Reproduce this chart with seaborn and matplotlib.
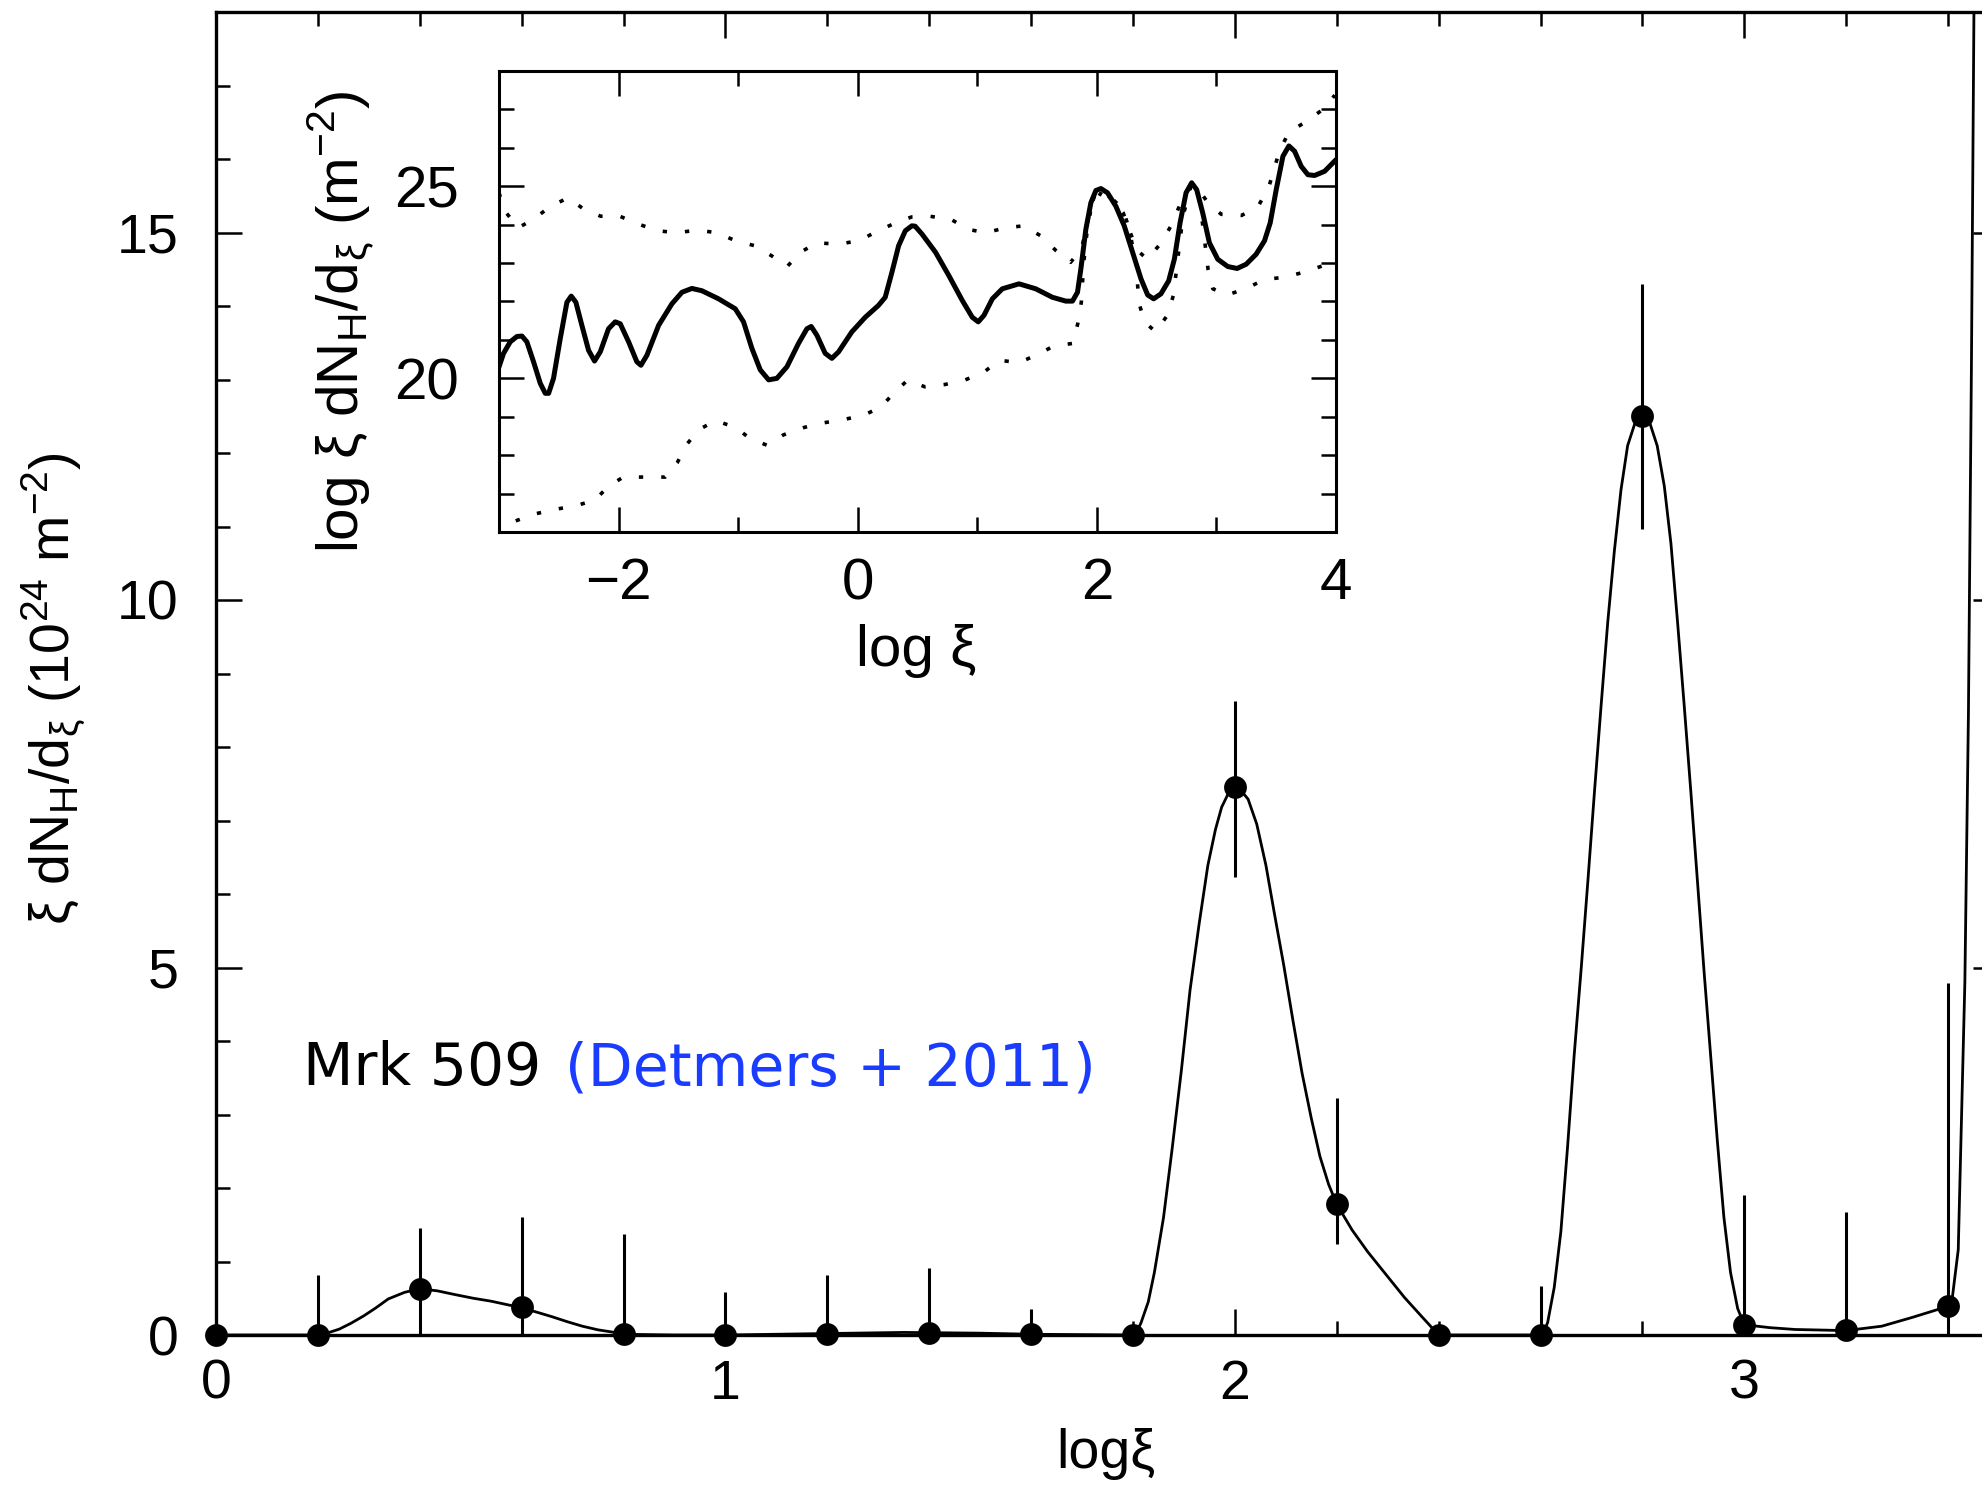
import matplotlib
matplotlib.use("Agg")
import matplotlib.pyplot as plt
import seaborn as sns
import numpy as np
import pandas as pd
from matplotlib.ticker import MultipleLocator

# ---------------- main panel data ----------------
pts_x = [0.0, 0.2, 0.4, 0.6, 0.8, 1.0, 1.2, 1.4, 1.6, 1.8, 2.0, 2.2, 2.4, 2.6, 2.8, 3.0, 3.2, 3.4]
pts_y = [0.0, 0.0, 0.63, 0.38, 0.01, 0.0, 0.02, 0.03, 0.01, 0.0, 7.45, 1.78, 0.0, 0.0, 12.5, 0.14, 0.07, 0.39]
err_hi = [0.0, 0.82, 0.83, 1.23, 1.36, 0.58, 0.79, 0.88, 0.35, 0.0, 1.17, 1.45, 0.0, 0.67, 1.80, 1.77, 1.61, 4.40]
err_lo = [0.0, 0.82, 0.83, 1.23, 1.36, 0.58, 0.79, 0.88, 0.35, 0.0, 1.22, 0.54, 0.0, 0.67, 1.53, 1.77, 1.61, 4.40]

curve_x = [0.0, 0.2, 0.22, 0.242, 0.265, 0.29, 0.314, 0.338, 0.37, 0.4, 0.435, 0.469, 0.505, 0.54,
           0.6, 0.63, 0.659, 0.69, 0.719, 0.75, 0.778, 0.8, 0.9, 1.0,
           1.2, 1.35, 1.5, 1.6, 1.8, 1.808, 1.816, 1.83, 1.842, 1.86, 1.877, 1.895, 1.912, 1.93,
           1.947, 1.962, 1.974, 1.988, 2.0, 2.013, 2.026, 2.043, 2.061, 2.078, 2.096, 2.114, 2.132,
           2.15, 2.167, 2.184, 2.2, 2.23, 2.261, 2.297, 2.333, 2.367, 2.4,
           2.6, 2.607, 2.614, 2.627, 2.64, 2.653, 2.666, 2.68, 2.693, 2.706, 2.719, 2.732, 2.745,
           2.758, 2.771, 2.786, 2.8, 2.814, 2.829, 2.843, 2.856, 2.869, 2.882, 2.895, 2.908, 2.921,
           2.934, 2.947, 2.96, 2.973, 2.987, 3.0, 3.05, 3.1, 3.2, 3.27, 3.33,
           3.4, 3.407, 3.42, 3.433, 3.44, 3.446, 3.451, 3.46]
curve_y = [0.0, 0.0, 0.03, 0.08, 0.16, 0.26, 0.37, 0.49, 0.58, 0.63, 0.6, 0.55, 0.5, 0.46,
           0.37, 0.31, 0.25, 0.18, 0.12, 0.07, 0.04, 0.01, 0.0, 0.0,
           0.02, 0.035, 0.025, 0.01, 0.0, 0.05, 0.17, 0.45, 0.85, 1.6, 2.54, 3.6, 4.69, 5.6,
           6.39, 6.88, 7.18, 7.38, 7.44, 7.40, 7.29, 6.95, 6.39, 5.72, 5.03, 4.28, 3.56,
           2.95, 2.43, 2.05, 1.78, 1.43, 1.13, 0.82, 0.51, 0.25, 0.0,
           0.0, 0.05, 0.17, 0.65, 1.41, 2.55, 3.80, 5.0, 6.18, 7.4, 8.57, 9.7, 10.67,
           11.5, 12.10, 12.42, 12.51, 12.42, 12.10, 11.55, 10.77, 9.7, 8.57, 7.4, 6.18, 4.95,
           3.80, 2.65, 1.60, 0.85, 0.36, 0.14, 0.10, 0.075, 0.06, 0.12, 0.24,
           0.39, 0.43, 1.16, 4.8, 8.46, 13.3, 18.2, 25.0]

# ---------------- inset data ----------------
ins_x = [-3.004, -2.962, -2.906, -2.85, -2.808, -2.767, -2.711, -2.655, -2.613, -2.585, -2.544,
         -2.488, -2.432, -2.396, -2.357, -2.307, -2.251, -2.201, -2.153, -2.084, -2.028, -1.986,
         -1.916, -1.847, -1.813, -1.763, -1.665, -1.554, -1.47, -1.387, -1.303, -1.164, -1.024,
         -0.955, -0.885, -0.815, -0.745, -0.676, -0.592, -0.495, -0.425, -0.389, -0.341, -0.272,
         -0.216, -0.16, -0.049, 0.063, 0.174, 0.23, 0.286, 0.342, 0.398, 0.453, 0.48, 0.539,
         0.651, 0.763, 0.874, 0.958, 1.008, 1.056, 1.126, 1.209, 1.349, 1.489, 1.628, 1.74, 1.796,
         1.838, 1.866, 1.908, 1.95, 1.992, 2.034, 2.089, 2.159, 2.229, 2.299, 2.369, 2.425, 2.475,
         2.536, 2.601, 2.648, 2.696, 2.746, 2.793, 2.835, 2.885, 2.941, 3.011, 3.095, 3.173, 3.249,
         3.332, 3.402, 3.45, 3.5, 3.556, 3.606, 3.654, 3.709, 3.765, 3.821, 3.905, 4.0]
ins_y = [20.26, 20.65, 20.95, 21.09, 21.10, 20.95, 20.43, 19.87, 19.61, 19.61, 20.00,
         21.03, 21.98, 22.14, 21.98, 21.38, 20.73, 20.45, 20.69, 21.29, 21.47, 21.42,
         20.95, 20.43, 20.34, 20.60, 21.38, 21.94, 22.24, 22.34, 22.28, 22.07, 21.81,
         21.47, 20.78, 20.22, 19.96, 20.00, 20.30, 20.91, 21.29, 21.35, 21.12, 20.65,
         20.52, 20.69, 21.21, 21.59, 21.90, 22.11, 22.76, 23.45, 23.84, 23.97, 23.96, 23.75,
         23.28, 22.67, 22.03, 21.59, 21.47, 21.64, 22.07, 22.33, 22.46, 22.33, 22.11, 22.01, 22.01,
         22.24, 22.84, 23.88, 24.57, 24.89, 24.94, 24.83, 24.48, 23.97, 23.28, 22.59, 22.17, 22.07,
         22.20, 22.54, 23.10, 24.05, 24.83, 25.09, 24.91, 24.31, 23.53, 23.10, 22.91, 22.86, 22.97,
         23.23, 23.58, 24.05, 24.91, 25.78, 26.05, 25.91, 25.52, 25.30, 25.28, 25.39, 25.69]

up_x = [-3.0, -2.95, -2.84, -2.71, -2.57, -2.42, -2.29, -2.15, -1.99, -1.83, -1.67, -1.51, -1.34,
        -1.18, -1.02, -0.86, -0.72, -0.59, -0.48, -0.34, -0.17, 0.01, 0.17, 0.32, 0.45, 0.60, 0.78,
        0.92, 1.07, 1.24, 1.39, 1.53, 1.66, 1.78, 1.87, 1.91, 1.95, 1.99, 2.05, 2.13, 2.22, 2.27,
        2.33, 2.42, 2.54, 2.62, 2.69, 2.76, 2.83, 2.93, 3.04, 3.21, 3.35, 3.44, 3.53, 3.61, 3.75,
        3.89, 3.99]
up_y = [24.83, 24.35, 23.92, 24.14, 24.48, 24.70, 24.40, 24.22, 24.22, 24.01, 23.84, 23.79, 23.86,
        23.79, 23.58, 23.45, 23.19, 22.91, 23.28, 23.53, 23.49, 23.58, 23.84, 24.05, 24.20, 24.22,
        24.14, 23.88, 23.79, 23.92, 23.97, 23.71, 23.32, 23.02, 23.36, 23.88, 24.48, 24.83, 24.87,
        24.66, 24.31, 23.88, 23.36, 23.10, 23.53, 23.97, 24.48, 24.91, 25.00, 24.57, 24.27, 24.24,
        24.48, 25.00, 25.95, 26.42, 26.68, 27.00, 27.37]

lo_x = [-2.86, -2.70, -2.53, -2.36, -2.20, -2.08, -1.96, -1.78, -1.61, -1.51, -1.43, -1.33, -1.19,
        -1.02, -0.90, -0.76, -0.62, -0.45, -0.29, -0.13, 0.04, 0.19, 0.30, 0.42, 0.56, 0.73, 0.90,
        1.06, 1.18, 1.35, 1.49, 1.64, 1.80, 1.84, 1.87, 1.89, 1.92, 1.95, 2.05, 2.22, 2.27, 2.33,
        2.35, 2.40, 2.49, 2.59, 2.64, 2.68, 2.72, 2.79, 2.85, 2.89, 2.93, 2.97, 3.09, 3.25, 3.40,
        3.56, 3.73, 3.89, 3.99]
lo_y = [16.29, 16.47, 16.59, 16.68, 16.83, 17.20, 17.43, 17.43, 17.43, 17.80, 18.28, 18.66, 18.90,
        18.72, 18.43, 18.26, 18.53, 18.72, 18.84, 18.92, 19.03, 19.24, 19.61, 19.96, 19.78, 19.84,
        19.96, 20.17, 20.47, 20.41, 20.60, 20.84, 20.91, 21.42, 21.98, 23.00, 23.88, 24.40, 24.91,
        24.40, 23.88, 22.97, 21.98, 21.47, 21.21, 21.64, 22.16, 23.19, 24.22, 25.04, 24.83, 23.88,
        22.84, 22.33, 22.17, 22.34, 22.57, 22.63, 22.76, 22.93, 22.97]

# ---------------- style ----------------
sns.set_style("ticks")
plt.rcParams["font.family"] = ["Liberation Sans", "DejaVu Sans"]
plt.rcParams["axes.unicode_minus"] = True
for k in ["text.color", "axes.labelcolor", "xtick.color", "ytick.color", "axes.edgecolor"]:
    plt.rcParams[k] = "black"

W, H = 1982, 1492
fig = plt.figure(figsize=(W / 100, H / 100), dpi=100)
fig.patch.set_facecolor("white")

# main axes (right edge lies just outside the image, as in the cropped reference)
L, R, T, B = 216, 1999, 12, 1335
ax = fig.add_axes([L / W, (H - B) / H, (R - L) / W, (B - T) / H])

sns.lineplot(x=curve_x, y=curve_y, ax=ax, color="black", linewidth=2.0,
             sort=False, estimator=None, zorder=3)
ax.errorbar(pts_x, pts_y, yerr=[err_lo, err_hi], fmt="none", ecolor="black",
            elinewidth=2.2, capsize=0, zorder=4)
sns.scatterplot(x=pts_x, y=pts_y, ax=ax, s=270, color="black", linewidth=0,
                clip_on=False, zorder=6)

ax.set_xlim(0, 3.5)
ax.set_ylim(0, 18)
ax.xaxis.set_major_locator(MultipleLocator(1))
ax.xaxis.set_minor_locator(MultipleLocator(0.2))
ax.yaxis.set_major_locator(MultipleLocator(5))
ax.yaxis.set_minor_locator(MultipleLocator(1))
ax.tick_params(which="both", direction="in", top=True, right=True, width=1.8,
               color="black", labelcolor="black")
ax.tick_params(which="major", length=18.5)
ax.tick_params(which="minor", length=10)
ax.tick_params(axis="x", labelsize=40, pad=17)
ax.tick_params(axis="y", labelsize=40, pad=27)
for s in ax.spines.values():
    s.set_linewidth(2.4)
    s.set_color("black")

ax.set_xlabel("logξ", fontsize=40, color="black")
ax.xaxis.set_label_coords((1106 - L) / (R - L), (B - 1454) / (B - T))
ax.xaxis.label.set_va("center")
ax.set_ylabel("ξ dN$_\\mathregular{H}$/d$_\\mathregular{ξ}$ (10$^\\mathregular{24}$ m$^\\mathregular{−2}$)",
              fontsize=40, va="center", color="black")
ax.yaxis.set_label_coords((53 - L) / (R - L), (B - 689) / (B - T))

# annotation
ax.text(0.171, 3.62, "Mrk 509", fontsize=42, family="DejaVu Sans", color="black",
        ha="left", va="center")
ax.text(0.686, 3.62, "(Detmers + 2011)", fontsize=42, family="DejaVu Sans", color="#1a3cff",
        ha="left", va="center")

# ---------------- inset ----------------
iL, iR, iT, iB = 499, 1336, 71, 532
axi = fig.add_axes([iL / W, (H - iB) / H, (iR - iL) / W, (iB - iT) / H])
sns.lineplot(x=up_x, y=up_y, ax=axi, color="black", linewidth=2.6, linestyle=(0, (1.2, 5)),
             sort=False, estimator=None)
sns.lineplot(x=lo_x, y=lo_y, ax=axi, color="black", linewidth=2.6, linestyle=(0, (1.2, 5)),
             sort=False, estimator=None)
sns.lineplot(x=ins_x, y=ins_y, ax=axi, color="black", linewidth=3.6,
             sort=False, estimator=None)
axi.set_xlim(-3, 4)
axi.set_ylim(16, 28)
axi.xaxis.set_major_locator(MultipleLocator(2))
axi.xaxis.set_minor_locator(MultipleLocator(1))
axi.yaxis.set_major_locator(MultipleLocator(5))
axi.yaxis.set_minor_locator(MultipleLocator(1))
axi.tick_params(which="both", direction="in", top=True, right=True, width=1.8,
                color="black", labelcolor="black")
axi.tick_params(which="major", length=18)
axi.tick_params(which="minor", length=11)
axi.tick_params(axis="x", labelsize=42, pad=18)
axi.tick_params(axis="y", labelsize=42, pad=29)
for s in axi.spines.values():
    s.set_linewidth(2.2)
    s.set_color("black")
axi.set_xlabel("log ξ", fontsize=42, va="center", color="black")
axi.xaxis.set_label_coords((916 - iL) / (iR - iL), (iB - 651) / (iB - iT))
axi.set_ylabel("log ξ dN$_\\mathregular{H}$/d$_\\mathregular{ξ}$ (m$^\\mathregular{−2}$)",
               fontsize=42, va="center", color="black")
axi.yaxis.set_label_coords((341 - iL) / (iR - iL), (iB - 322) / (iB - iT))

fig.savefig("out.png", dpi=100, facecolor="white")
